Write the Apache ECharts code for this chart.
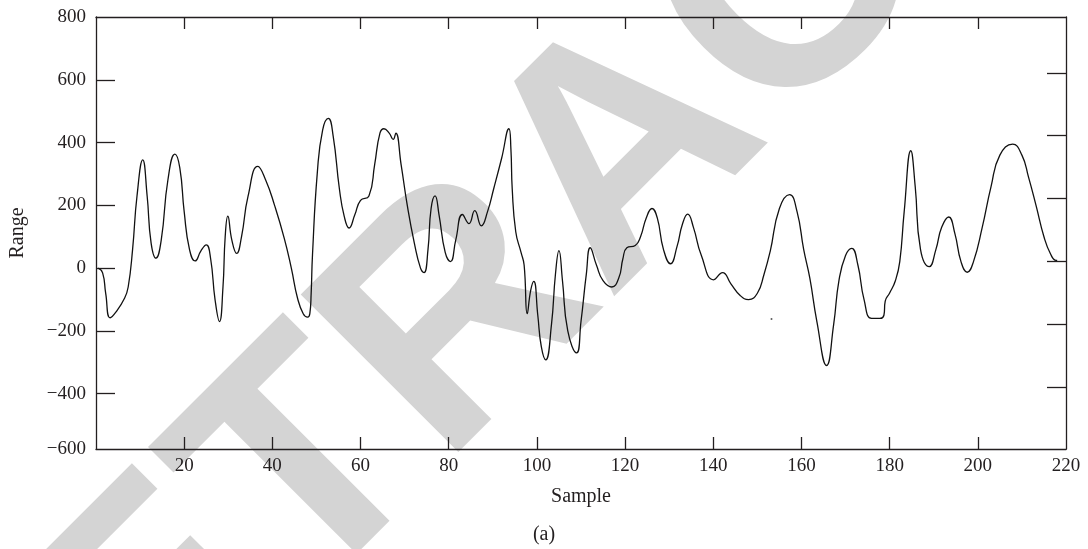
<!DOCTYPE html>
<html>
<head>
<meta charset="utf-8">
<script src="https://cdn.jsdelivr.net/npm/echarts@6/dist/echarts.min.js"></script>
</head>
<body style="margin:0">
<div id="main" style="width:1088px;height:549px;"></div>
<script type="text/javascript">

// curve: sample index and range value
var sampleX = [
  0.5, 1.5, 2.2, 3.2, 4.5, 6.5, 7.3, 8.3, 9.3, 10.6, 11.6, 12.5, 13.6, 14.8, 16.3, 17.9,
  19.0, 20.0, 21.2, 22.5, 23.8, 25.0, 26.0, 27.0, 28.0, 28.8, 29.3, 29.9, 30.8, 31.9,
  33.0, 34.5, 36.7, 38.5, 40.5, 42.7, 44.3, 45.7, 47.0, 48.0, 48.5, 48.8, 49.1, 50.2,
  51.4, 52.7, 53.8, 55.2, 56.3, 57.4, 58.7, 60.0, 61.9, 63.2, 64.4, 65.3, 66.5, 67.4,
  68.0, 69.2, 70.6, 72.2, 73.6, 74.4, 75.3, 76.0, 76.9, 77.8, 79.2, 80.4, 81.6, 83.1,
  84.6, 85.9, 87.4, 88.8, 90.2, 92.0, 93.65, 94.1, 94.4, 95.2, 96.4, 97.1, 97.8, 98.6,
  99.3, 100.2, 101.0, 102.0, 103.3, 104.2, 105.0, 105.8, 107.0, 109.0, 110.0, 111.2,
  112.1, 113.5, 115.0, 117.0, 118.6, 119.5, 120.4, 122.3, 123.5, 124.8, 126.1, 127.3,
  128.7, 130.3, 131.8, 133.0, 134.2, 135.5, 137.3, 140.1, 142.1, 144.0, 146.1, 148.0,
  150.0, 151.5, 152.9, 155.0, 157.3, 159.0, 160.5, 161.9, 163.5, 165.7, 167.3, 168.5,
  170.0, 171.4, 172.8, 174.2, 175.9, 177.8, 178.7, 179.0, 180.0, 181.3, 182.3, 183.3,
  184.8, 185.8, 187.0, 189.0, 190.5, 191.8, 193.4, 194.8, 196.2, 197.6, 199.0, 201.0,
  203.0, 205.0, 207.9, 210.0, 211.5, 213.2, 215.0, 216.5, 217.7, 218.0
];
var rangeY = [
  0, -15, -80, -158, -140, -95, -60, 60, 230, 345, 230, 80, 32, 90, 280, 363,
  320, 180, 60, 23, 55, 74, 30, -100, -170, -60, 100, 166, 90, 47,
  100, 230, 324, 280, 200, 95, 0, -95, -145, -156, -145, -80, 42, 305,
  440, 477, 420, 253, 165, 128, 170, 216, 230, 330, 430, 444, 430, 410,
  430, 330, 200, 80, 0, -14, 60, 190, 230, 170, 50, 21, 90, 171,
  142, 183, 135, 180, 253, 350, 444, 380, 253, 116, 50, 10, -145, -70,
  -42, -150, -250, -292, -180, -20, 56, -40, -200, -270, -170, -20,
  65, 10, -40, -60, -30, 30, 65, 72, 100, 160, 190, 160,
  60, 14, 70, 140, 172, 130, 40, -37, -14, -50, -87, -100,
  -80, -20, 53, 190, 234, 180, 60, -32, -170, -310, -180, -40,
  40, 63, 10, -100, -160, -160, -150, -105, -79, -40, 21, 180,
  374, 260, 60, 5, 60, 130, 163, 110, 20, -13, 20, 130,
  260, 360, 395, 360, 290, 200, 100, 45, 25, 25
];
var strayPoint = [[153.2, -162]];

var xTicks = [20, 40, 60, 80, 100, 120, 140, 160, 180, 200];
var yTicks = [-400, -200, 0, 200, 400, 600];
var yLabels = [-576, -400, -200, 0, 200, 400, 600, 800];
var yMin = -576, yMax = 800;

var serif = '"Liberation Serif", "DejaVu Serif", serif';
var ink = '#231f20';

var myChart = echarts.init(document.getElementById('main'));

var option = {
  animation: false,
  backgroundColor: '#fff',
  title: {
    text: '(a)',
    left: 'center',
    top: 520,
    textStyle: { fontFamily: serif, fontSize: 20, fontWeight: 'normal', color: ink }
  },
  graphic: [{
    type: 'text',
    x: 628,
    y: 156,
    rotation: Math.PI / 4,
    z: -10,
    silent: true,
    style: {
      text: 'RETRACTED',
      fontFamily: '"Liberation Sans", Arial, sans-serif',
      fontWeight: 'bold',
      fontSize: 324,
      fill: '#d4d4d4',
      align: 'center',
      verticalAlign: 'middle'
    }
  }],
  grid: { left: 95, right: 22, top: 17, bottom: 100 },
  xAxis: [{
    type: 'value',
    min: 0, max: 220, interval: 20,
    name: 'Sample',
    nameLocation: 'middle',
    nameGap: 38,
    nameTextStyle: { fontFamily: serif, fontSize: 20, color: ink },
    axisLine: { show: true, onZero: false, lineStyle: { color: ink, width: 1.3 } },
    axisTick: { inside: true, length: 12, customValues: xTicks, lineStyle: { color: ink, width: 1.3 } },
    axisLabel: { showMinLabel: false, fontFamily: serif, fontSize: 19, color: ink, margin: 8 },
    splitLine: { show: false }
  }, {
    type: 'value',
    position: 'top',
    min: 0, max: 220, interval: 20,
    axisLine: { show: true, onZero: false, lineStyle: { color: ink, width: 1.3 } },
    axisTick: { inside: true, length: 12, customValues: xTicks, lineStyle: { color: ink, width: 1.3 } },
    axisLabel: { show: false },
    splitLine: { show: false }
  }],
  yAxis: [{
    type: 'value',
    min: yMin, max: yMax,
    name: 'Range',
    nameLocation: 'middle',
    nameGap: 68,
    nameTextStyle: { fontFamily: serif, fontSize: 20, color: ink },
    axisLine: { show: true, onZero: false, lineStyle: { color: ink, width: 1.3 } },
    axisTick: { inside: true, length: 19, customValues: yTicks, lineStyle: { color: ink, width: 1.3 } },
    axisLabel: {
      customValues: yLabels,
      fontFamily: serif, fontSize: 19, color: ink, margin: 10,
      formatter: function (v) {
        if (v === yMin) v = -600;
        return String(v).replace('-', '\u2212');
      }
    },
    splitLine: { show: false }
  }, {
    type: 'value',
    position: 'right',
    min: yMin - 22, max: yMax - 22,
    axisLine: { show: true, onZero: false, lineStyle: { color: ink, width: 1.3 } },
    axisTick: { inside: true, length: 19, customValues: yTicks, lineStyle: { color: ink, width: 1.3 } },
    axisLabel: { show: false },
    splitLine: { show: false }
  }],
  series: [{
    name: 'Range',
    type: 'line',
    xAxisIndex: 0,
    yAxisIndex: 0,
    smooth: true,
    showSymbol: false,
    lineStyle: { color: '#111', width: 1.3 },
    data: sampleX.map(function (s, i) { return [s, rangeY[i]]; })
  }, {
    type: 'scatter',
    symbolSize: 2,
    itemStyle: { color: '#333' },
    data: strayPoint
  }]
};

myChart.setOption(option);

</script>
</body>
</html>
